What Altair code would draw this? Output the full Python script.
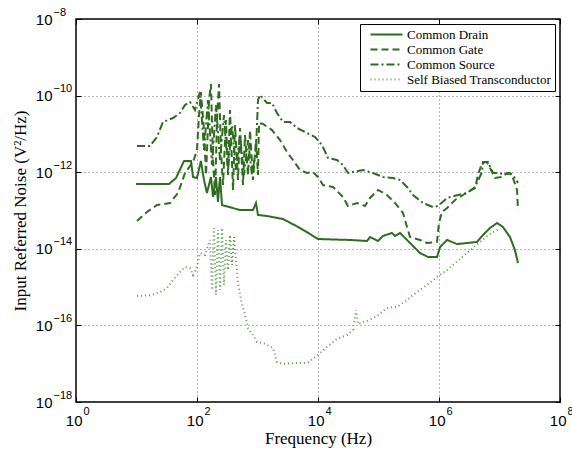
import altair as alt
import pandas as pd

series = ["Common Drain", "Common Gate", "Common Source", "Self Biased Transconductor"]

cd_f = [9.8, 34.4, 45, 61, 79.6, 85.9, 100, 116, 130.6, 146, 170, 184, 206, 222, 240, 259, 514, 843, 944, 1019,
        1435, 2638, 5040, 7380, 10000, 33800, 64600, 72400, 98100, 118600, 167000, 187500, 226600, 296000,
        485000, 658000, 927000, 1.04e6, 1.36e6, 1.99e6, 4.25e6, 5.33e6, 6.97e6, 9.1e6, 1.14e7, 1.49e7, 1.80e7, 2.02e7]
cd_n = [4.9e-13, 4.9e-13, 7.06e-13, 1.96e-12, 1.96e-12, 7.5e-13, 7.06e-13, 1.96e-12, 6.25e-13, 2.86e-13,
        7.5e-13, 2.25e-13, 7.5e-13, 1.67e-13, 7.5e-13, 1.39e-13, 1.03e-13, 1.03e-13, 1.57e-13, 7.64e-14,
        7.18e-14, 6.0e-14, 3.49e-14, 2.43e-14, 1.80e-14, 1.70e-14, 1.60e-14, 2.03e-14, 1.60e-14, 2.16e-14,
        2.59e-14, 2.16e-14, 2.59e-14, 1.70e-14, 7.76e-15, 6.11e-15, 6.11e-15, 1.11e-14, 1.70e-14, 1.33e-14,
        1.51e-14, 2.29e-14, 3.49e-14, 4.72e-14, 3.71e-14, 2.03e-14, 9.3e-15, 4.26e-15]

cg_f = [10.2, 14.9, 21.8, 35.8, 48.5, 63.4, 85.9, 100, 108, 116,
        130.6, 141, 158, 170, 184, 199, 214, 231, 249, 269,
        301, 325, 351, 394, 425, 476, 514, 576, 621, 697,
        752, 843, 944, 1019, 1059, 1233, 1738, 2355, 3073, 3861,
        5040, 6577, 8265, 10000, 12100, 17700, 25900, 31300, 44100, 59800,
        72400, 98100, 138000, 187500, 254000, 296000, 332000, 485000, 634000, 927000,
        1.0e6, 1.12e6, 1.36e6, 1.84e6, 2.49e6, 3.94e6, 4.41e6, 5.14e6, 6.21e6, 7.52e6,
        8.43e6, 1.10e7, 1.33e7, 1.61e7, 1.95e7, 2.02e7]
cg_n = [5.32e-14, 9.14e-14, 1.39e-13, 1.57e-13, 2.86e-13, 9.53e-13, 1.85e-12, 3.80e-12, 3.11e-11, 1.24e-10,
        1.26e-11, 8.45e-13, 7.67e-11, 2.01e-10, 2.08e-12, 2.54e-13, 2.31e-11, 2.01e-10, 3.80e-12, 4.63e-13,
        2.31e-11, 8.45e-13, 4.21e-11, 3.43e-13, 1.71e-11, 6.25e-13, 1.43e-11, 4.63e-13, 9.36e-12, 8.45e-13,
        1.26e-11, 6.25e-13, 6.93e-12, 8.45e-13, 1.93e-11, 1.81e-11, 1.26e-11, 6.93e-12, 3.37e-12, 2.08e-12,
        1.14e-12, 9.53e-13, 1.01e-12, 7.50e-13, 4.63e-13, 4.11e-13, 2.25e-13, 1.31e-13, 1.57e-13, 1.31e-13,
        2.12e-13, 3.43e-13, 2.54e-13, 1.57e-13, 8.61e-14, 3.71e-14, 2.03e-14, 1.70e-14, 1.42e-14, 1.51e-14,
        4.72e-14, 9.14e-14, 1.16e-13, 1.88e-13, 2.54e-13, 3.87e-13, 8.45e-13, 1.74e-12, 1.85e-12, 1.01e-12,
        7.06e-13, 7.50e-13, 9.53e-13, 8.45e-13, 3.43e-13, 1.03e-13]

cs_f = [10.2, 16.7, 21.8, 27.4, 40.1, 52.4, 63.4, 76.6, 92.7, 112,
        130.6, 152, 177, 206, 240, 279, 325, 379, 441, 514,
        598, 697, 811, 944, 1019, 1099, 1435, 1738, 2100, 2638,
        3444, 4497, 6577, 8913, 11640, 14630, 20600, 25900, 31300, 37900,
        55400, 81100, 118600, 174000, 226600, 296000, 372000, 544000, 796000, 962000,
        1.36e6, 2.06e6, 2.90e6, 3.94e6, 5.14e6, 5.33e6, 6.45e6, 7.81e6, 1.02e7, 1.14e7,
        1.49e7, 1.67e7, 2.02e7]
cs_n = [4.83e-12, 4.83e-12, 8.30e-12, 2.05e-11, 2.60e-11, 3.51e-11, 5.69e-11, 6.81e-11, 4.21e-11, 1.24e-10,
        3.80e-12, 7.67e-11, 1.54e-12, 5.69e-11, 2.08e-12, 3.11e-11, 1.14e-12, 1.71e-11, 1.14e-12, 9.36e-12,
        8.45e-13, 6.93e-12, 8.45e-13, 3.80e-12, 7.67e-11, 1.04e-10, 6.41e-11, 6.41e-11, 3.51e-11, 2.05e-11,
        2.05e-11, 1.43e-11, 1.05e-11, 8.30e-12, 5.13e-12, 2.35e-12, 2.08e-12, 1.54e-12, 9.53e-13, 1.01e-12,
        1.14e-12, 9.53e-13, 7.50e-13, 7.06e-13, 6.25e-13, 4.11e-13, 2.54e-13, 1.57e-13, 1.23e-13, 1.31e-13,
        2.12e-13, 2.54e-13, 2.86e-13, 4.11e-13, 1.01e-12, 1.85e-12, 1.85e-12, 9.53e-13, 9.53e-13, 8.45e-13,
        9.53e-13, 8.45e-13, 5.22e-13]

sb_f = [10.2, 18.0, 24.5, 31.9, 40.1, 52.4, 63.4, 76.6, 85.9, 100,
        112, 136, 164, 177, 191, 206, 222, 240, 259, 279,
        301, 325, 351, 379, 409, 441, 476, 534, 621, 697,
        843, 981, 1233, 1803, 2100, 2638, 3861, 6577, 9620, 14090,
        20600, 30200, 37900, 42500, 45800, 64600, 94400, 138000, 202000, 296000,
        433000, 634000, 927000, 1.36e6, 1.70e6, 2.90e6, 4.76e6, 6.97e6, 1.02e7]
sb_n = [5.86e-16, 6.22e-16, 7.45e-16, 9.48e-16, 1.53e-15, 2.48e-15, 3.35e-15, 3.16e-15, 2.07e-15, 3.35e-15,
        7.76e-15, 6.89e-15, 1.70e-14, 8.40e-16, 3.49e-14, 6.22e-16, 3.10e-14, 8.40e-16, 3.49e-14, 1.14e-15,
        1.70e-14, 2.79e-15, 2.29e-14, 3.78e-15, 2.03e-14, 5.10e-15, 1.28e-15, 4.60e-16, 1.87e-16, 8.55e-17,
        5.61e-17, 3.69e-17, 3.47e-17, 2.57e-17, 1.11e-17, 9.82e-18, 1.04e-17, 1.04e-17, 1.59e-17, 2.73e-17,
        4.42e-17, 5.61e-17, 7.59e-17, 2.52e-16, 1.09e-16, 1.30e-16, 1.76e-16, 2.84e-16, 3.02e-16, 4.60e-16,
        7.45e-16, 1.14e-15, 1.84e-15, 2.79e-15, 3.78e-15, 7.76e-15, 1.51e-14, 2.43e-14, 3.49e-14]

x_ticks = [1, 1e2, 1e4, 1e6, 1e8]
y_ticks = [1e-18, 1e-16, 1e-14, 1e-12, 1e-10, 1e-8]
x_exps = [0, 2, 4, 6, 8]
y_exps = [-18, -16, -14, -12, -10, -8]

rows = []
for name, fs, ns in zip(series, [cd_f, cg_f, cs_f, sb_f], [cd_n, cg_n, cs_n, sb_n]):
    for i, (f, n) in enumerate(zip(fs, ns)):
        rows.append({"series": name, "f": f, "n": n, "i": i})
df = pd.DataFrame(rows)


def exp_expr(exps):
    expr = "''"
    for e in exps:
        txt = str(e).replace("-", "\u2212")
        expr = f"round(log(datum.value)/LN10)=={e} ? '{txt}' : ({expr})"
    return expr


green = "#2e6d20"
light = "#5f9a50"
xs = alt.Scale(type="log", domain=[1, 1e8])
ys = alt.Scale(type="log", domain=[1e-18, 1e-8])

leg = alt.Legend(orient="top-right", offset=5, title=None, strokeColor="black", fillColor="white",
                 padding=4, symbolType="M0,0H8", symbolSize=64, labelFont="Liberation Serif",
                 labelFontSize=13, labelColor="black", rowPadding=1, labelOffset=30, cornerRadius=0)

lines = alt.Chart(df).mark_line(clip=True).encode(
    x=alt.X("f:Q", scale=xs,
            axis=alt.Axis(values=x_ticks, labelExpr="'10'", title="Frequency (Hz)", orient="bottom",
                          titleY=41, titleBaseline="alphabetic", labelPadding=11, labelAlign="right",
                          labelOffset=6, labelFontSize=15, grid=True)),
    y=alt.Y("n:Q", scale=ys,
            axis=alt.Axis(values=y_ticks, labelExpr="'10'", orient="left",
                          title="Input Referred Noise (V\u00b2/Hz)", titleX=-47, titleY=191.5,
                          titleBaseline="bottom", titleAngle=-90, labelPadding=24, labelAlign="right",
                          labelFontSize=15, grid=True)),
    color=alt.Color("series:N", scale=alt.Scale(domain=series, range=[green, green, green, light]), legend=leg),
    strokeDash=alt.StrokeDash("series:N", scale=alt.Scale(domain=series,
                              range=[[1, 0], [7, 4], [8, 3, 2, 3], [1, 3]]), legend=leg),
    strokeWidth=alt.StrokeWidth("series:N", scale=alt.Scale(domain=series, range=[2, 2, 1.8, 1.2]), legend=leg),
    order=alt.Order("i:Q"),
)

exps = alt.Chart(df).mark_point(opacity=0).encode(
    x=alt.X("f:Q", scale=xs,
            axis=alt.Axis(values=x_ticks, labelExpr=exp_expr(x_exps), title=None, orient="bottom",
                          labelPadding=3, labelAlign="left", labelOffset=7, labelFontSize=11, grid=False)),
    y=alt.Y("n:Q", scale=ys,
            axis=alt.Axis(values=y_ticks, labelExpr=exp_expr(y_exps), title=None, orient="left",
                          labelPadding=23, labelAlign="left", labelOffset=-7, labelFontSize=11, grid=False)),
)


def tick_axis(vals, orient):
    return alt.Axis(values=vals, orient=orient, offset=-5, ticks=True, tickSize=5, tickColor="black",
                    tickWidth=1, labels=False, domain=False, grid=False, title=None)


ticks_bl = alt.Chart(df).mark_point(opacity=0).encode(
    x=alt.X("f:Q", scale=xs, axis=tick_axis(x_ticks, "bottom")),
    y=alt.Y("n:Q", scale=ys, axis=tick_axis(y_ticks, "left")),
)
ticks_tr = alt.Chart(df).mark_point(opacity=0).encode(
    x=alt.X("f:Q", scale=xs, axis=tick_axis(x_ticks, "top")),
    y=alt.Y("n:Q", scale=ys, axis=tick_axis(y_ticks, "right")),
)

chart = alt.layer(lines, exps, ticks_bl, ticks_tr).resolve_scale(x="independent", y="independent").properties(
    width=484, height=383,
    autosize=alt.AutoSizeParams(type="none"),
    padding={"left": 76, "top": 19, "right": 12, "bottom": 50},
).configure_view(
    stroke="black", strokeWidth=1.5
).configure_axis(
    labelFont="Liberation Sans", labelColor="black",
    titleFont="Liberation Serif", titleFontSize=17, titleFontWeight="normal", titleColor="black",
    gridDash=[1, 3], gridColor="#444", gridOpacity=0.8, gridWidth=1,
    domain=False, ticks=False, tickSize=0
)

chart.save("out.html", embed_options={"renderer": "svg", "actions": False})
